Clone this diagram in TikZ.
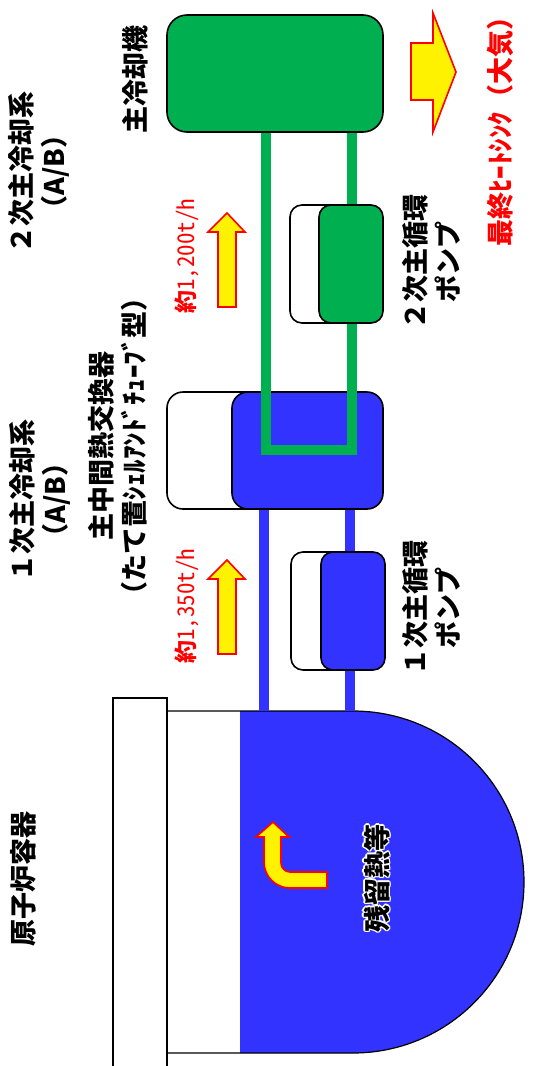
\documentclass[tikz,border=0pt]{standalone}
\usepackage{fontspec}
\newfontfamily\jpfont{Noto Sans CJK JP}
\newfontfamily\jpnum{Noto Sans CJK JP}[CharacterWidth=Half]
\definecolor{pblue}{HTML}{3333FF}
\definecolor{sgreen}{HTML}{00B050}

\begin{document}
\begin{tikzpicture}[x=0.5pt,y=-0.5pt,
    box/.style={draw=black,line width=0.8pt,rounded corners=8pt},
    pipe/.style={line width=5pt},
    fatarrow/.style={fill=yellow,draw=red,line width=0.8pt,line join=miter},
    lbl/.style={rotate=90,align=center,inner sep=0pt,font={\jpfont\bfseries\fontsize{13.5pt}{16.5pt}\selectfont}},
    flowlbl/.style={rotate=90,inner sep=0pt,text=red,font={\jpnum\fontsize{11.5pt}{13pt}\selectfont}}]
        \useasboundingbox (0,0) rectangle (533,1066);

        % reactor vessel
        \draw[line width=0.6pt] (113,1066) -- (113,698) -- (167,698) -- (167,1066);
        \fill[pblue] (240,711) -- (353,711) arc (90:-90:85.5pt) -- (240,1053) -- cycle;
        \draw[line width=0.6pt] (167,711) -- (353,711) arc (90:-90:85.5pt) -- (167,1053);

        % primary loop
        \draw[pblue,pipe] (264,711) -- (264,500);
        \draw[pblue,pipe] (350,711) -- (350,500);
        \draw[box,fill=white] (167,392) rectangle (300,509);
        \draw[box,fill=pblue] (232,392) rectangle (383,509);
        \draw[box,fill=white,rounded corners=6pt] (291,552) rectangle (350,670);
        \draw[box,fill=pblue,rounded corners=6pt] (321,552) rectangle (385,670);

        % secondary loop
        \draw[sgreen,pipe,line join=miter] (265.5,132) -- (265.5,450) -- (352,450) -- (352,132);
        \draw[box,fill=sgreen,rounded corners=10pt] (167,15) rectangle (383,132);
        \draw[box,fill=white,rounded corners=6pt] (290,205) rectangle (350,323);
        \draw[box,fill=sgreen,rounded corners=6pt] (319,205) rectangle (383,323);

        % flow arrows
        \draw[fatarrow] (218,307) -- (218,232) -- (208,232) -- (227,213) -- (245,232) -- (236,232) -- (236,307) -- cycle;
        \draw[fatarrow] (218,654) -- (218,579) -- (208,579) -- (227,560) -- (245,579) -- (236,579) -- (236,654) -- cycle;
        \draw[fatarrow] (411,43) -- (433,43) -- (433,13) -- (456,72) -- (433,132) -- (433,100) -- (411,100) -- cycle;
        \draw[fatarrow] (264,837) -- (264,862) arc (180:270:13pt) -- (327,888) -- (327,872) -- (290,872)
            arc (270:180:4.5pt) -- (281,837) -- (289,837) -- (273,822) -- (256,837) -- cycle;

        % labels
        \node[lbl] (sys2) at (39,172) {２次主冷却系\\（A/B）};
        \node[lbl] (cooler) at (135,79) {主冷却機};
        \node[flowlbl] (flow2) at (187,256) {{\bfseries 約}1,200t/h};
        \node[lbl] (pump2) at (431,262) {２次主循環\\ポンプ};
        \node[lbl,text=red] (sink) at (500,125) {最終ﾋｰﾄｼﾝｸ（大気）};
        \node[lbl] (sys1) at (40,500) {１次主冷却系\\（A/B）};
        \node[lbl] (ihx) at (118,446) {主中間熱交換器\\（たて置ｼｪﾙｱﾝﾄﾞﾁｭｰﾌﾞ型）};
        \node[flowlbl] (flow1) at (187,606) {{\bfseries 約}1,350t/h};
        \node[lbl] (pump1) at (431,608) {１次主循環\\ポンプ};
        \node[lbl] (vessel) at (23,879) {原子炉容器};
        \foreach \dx/\dy [count=\i] in {-1.5/0,1.5/0,0/-1.5,0/1.5,-1/-1,1/1,-1/1,1/-1}
            \node[lbl,text=white] (halo\i) at (377+\dx,878+\dy) {残留熱等};
        \node[lbl] (decay) at (377,878) {残留熱等};

    \end{tikzpicture}
\end{document}
